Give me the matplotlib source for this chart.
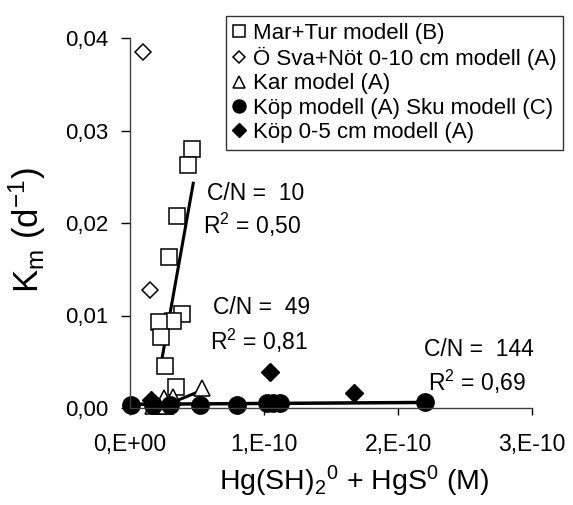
import numpy as np
import matplotlib
matplotlib.use('Agg')
import matplotlib.pyplot as plt

plt.rcParams['font.family'] = ['Liberation Sans', 'DejaVu Sans']
plt.rcParams['mathtext.default'] = 'regular'

# Data (x in units of 1E-10 M, y in d^-1)
mar_x = [0.46, 0.43, 0.35, 0.29, 0.39, 0.32, 0.22, 0.23, 0.26, 0.34]
mar_y = [0.0280, 0.0263, 0.0208, 0.0163, 0.0102, 0.0094, 0.0093, 0.0077, 0.0045, 0.0023]
sva_x = [0.10, 0.15]
sva_y = [0.0385, 0.0128]
kar_x = [0.17, 0.22, 0.27, 0.25, 0.32, 0.535]
kar_y = [0.0002, 0.0002, 0.0002, 0.0011, 0.0012, 0.0022]
kop_x = [0.01, 0.17, 0.30, 0.52, 0.80, 1.02, 1.07, 1.12, 2.20]
kop_y = [0.0003, 0.0003, 0.0003, 0.0003, 0.0003, 0.0005, 0.0005, 0.0005, 0.0006]
kop5_x = [0.16, 1.045, 1.67]
kop5_y = [0.0009, 0.0039, 0.0016]

# trend lines (end points)
mar_fit_x = [0.237, 0.472]
mar_fit_y = [0.0052, 0.0243]
kar_fit_x = [0.30, 0.535]
kar_fit_y = [0.0005, 0.0019]
kop_fit_x = [0.01, 2.20]
kop_fit_y = [0.0004, 0.0006]

labels = ['Mar+Tur modell (B)', 'Ö Sva+Nöt 0-10 cm modell (A)', 'Kar model (A)',
          'Köp modell (A) Sku modell (C)', 'Köp 0-5 cm modell (A)']
xticks = [0, 1, 2, 3]
xtick_labels = ['0,E+00', '1,E-10', '2,E-10', '3,E-10']
yticks = [0, 0.01, 0.02, 0.03, 0.04]
ytick_labels = ['0,00', '0,01', '0,02', '0,03', '0,04']

fig = plt.figure(figsize=(5.73, 5.05), dpi=100)
ax = fig.add_axes([130 / 573, 97 / 505, 402 / 573, 370 / 505])

sc = 1e-10
ax.plot(np.array(mar_fit_x) * sc, mar_fit_y, color='black', lw=2.2, clip_on=False)
ax.plot(np.array(kar_fit_x) * sc, kar_fit_y, color='black', lw=2.2, clip_on=False)
ax.plot(np.array(kop_fit_x) * sc, kop_fit_y, color='black', lw=2.5, clip_on=False)

ax.plot(np.array(mar_x) * sc, mar_y, 's', ms=11, mfc='white', mec='black', mew=1.1,
        label=labels[0], clip_on=False)
ax.plot(np.array(sva_x) * sc, sva_y, 'D', ms=8.5, mfc='white', mec='black', mew=1.1,
        label=labels[1], clip_on=False)
ax.plot(np.array(kar_x) * sc, kar_y, '^', ms=11, mfc='white', mec='black', mew=1.1,
        label=labels[2], clip_on=False)
ax.plot(np.array(kop_x) * sc, kop_y, 'o', ms=12.5, mfc='black', mec='black',
        label=labels[3], clip_on=False)
ax.plot(np.array(kop5_x) * sc, kop5_y, 'D', ms=9, mfc='black', mec='black',
        label=labels[4], clip_on=False)

ax.set_xlim(0, 3e-10)
ax.set_ylim(0, 0.04)
ax.set_xticks(np.array(xticks) * sc)
ax.set_xticklabels(xtick_labels)
ax.set_yticks(yticks)
ax.set_yticklabels(ytick_labels)
ax.tick_params(axis='x', direction='out', length=5, width=1, pad=13, labelsize=16.5)
ax.tick_params(axis='y', direction='out', length=6.5, width=1, pad=9, labelsize=16)
for s in ['top', 'right']:
    ax.spines[s].set_visible(False)
for s in ['left', 'bottom']:
    ax.spines[s].set_linewidth(1)
    ax.spines[s].set_color('#404040')

ax.set_xlabel('Hg(SH)$_2$$^0$ + HgS$^0$ (M)', fontsize=20.5)
ax.xaxis.set_label_coords(0.557, -0.15)
ax.set_ylabel('K$_m$ (d$^{-1}$)', fontsize=25)
ax.yaxis.set_label_coords(-0.205, 0.48)

# annotations
fs = 16.5
ax.text(0.572 * sc, 0.0232, 'C/N =  10', fontsize=fs, va='center')
ax.text(0.545 * sc, 0.0198, 'R$^2$ = 0,50', fontsize=fs, va='center')
ax.text(0.62 * sc, 0.0109, 'C/N =  49', fontsize=fs, va='center')
ax.text(0.597 * sc, 0.0073, 'R$^2$ = 0,81', fontsize=fs, va='center')
ax.text(2.194 * sc, 0.0063, 'C/N =  144', fontsize=fs, va='center')
ax.text(2.224 * sc, 0.0028, 'R$^2$ = 0,69', fontsize=fs, va='center')

leg = ax.legend(loc='upper left', bbox_to_anchor=(226 / 573, 1 - 16 / 505),
                bbox_transform=fig.transFigure, fontsize=16, frameon=True,
                fancybox=False, edgecolor='black', markerscale=0.75,
                handlelength=0.6, handletextpad=0.3, labelspacing=0.15,
                borderpad=0.3, borderaxespad=0)
leg.get_frame().set_linewidth(1)

fig.savefig('out.png', dpi=100)
